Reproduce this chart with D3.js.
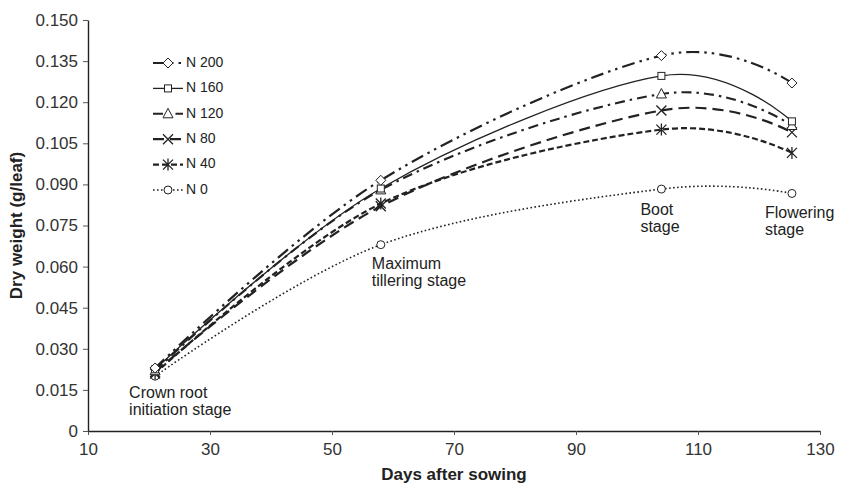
<!DOCTYPE html>
<html>
<head>
<meta charset="utf-8">
<script src="https://cdn.jsdelivr.net/npm/d3@7/dist/d3.min.js"></script>
<style>
  html, body { margin: 0; padding: 0; background: #fff; }
  text { font-family: "Liberation Sans", Arial, sans-serif; }
</style>
</head>
<body>
<svg id="chart" width="855" height="485"></svg>
<script>
// ---- data ----
const days = [21, 58, 104, 125.4];
const seriesNames = ["N 200", "N 160", "N 120", "N 80", "N 40", "N 0"];
const n200 = [0.023, 0.0915, 0.137, 0.127];
const n160 = [0.0225, 0.0885, 0.1296, 0.113];
const n120 = [0.022, 0.088, 0.123, 0.1115];
const n80  = [0.0215, 0.082, 0.117, 0.109];
const n40  = [0.021, 0.083, 0.110, 0.1015];
const n0   = [0.020, 0.068, 0.0883, 0.0867];
const xTicks = [10, 30, 50, 70, 90, 110, 130];
const yTicks = [0, 0.015, 0.030, 0.045, 0.060, 0.075, 0.090, 0.105, 0.120, 0.135, 0.150];
const stageLabels = [
  {day: 21, lines: ["Crown root", "initiation stage"]},
  {day: 58, lines: ["Maximum", "tillering stage"]},
  {day: 104, lines: ["Boot", "stage"]},
  {day: 125.4, lines: ["Flowering", "stage"]}
];

// ---- styles ----
const styles = [
  {marker: "diamond",  dash: "13,5,2.5,5,2.5,5", width: 2.2},
  {marker: "square",   dash: null,               width: 1.3},
  {marker: "triangle", dash: "10,5,2.5,5",       width: 2.1},
  {marker: "x",        dash: "11,6",             width: 2.2},
  {marker: "asterisk", dash: "6,3",              width: 2.2},
  {marker: "circle",   dash: "1.6,2.4",          width: 1.6}
];
const allSeries = [n200, n160, n120, n80, n40, n0];
const ink = "#222";

const svg = d3.select("#chart");
const W = 855, H = 485;
const margin = {left: 88, right: 35, top: 20, bottom: 54};
const x = d3.scaleLinear().domain([10, 130]).range([margin.left, W - margin.right]);
const y = d3.scaleLinear().domain([0, 0.15]).range([H - margin.bottom, margin.top]);

// axes
const xAxis = svg.append("g")
  .attr("transform", `translate(0,${H - margin.bottom})`)
  .call(d3.axisBottom(x).tickValues(xTicks).tickSize(4).tickSizeOuter(0).tickPadding(8));
const yAxis = svg.append("g")
  .attr("transform", `translate(${margin.left},0)`)
  .call(d3.axisLeft(y).tickValues(yTicks).tickSize(5).tickSizeOuter(0).tickPadding(5)
    .tickFormat(d => d === 0 ? "0" : d3.format(".3f")(d)));
[xAxis, yAxis].forEach(g => {
  g.select(".domain").attr("stroke", ink).attr("stroke-width", 1.4);
  g.selectAll(".tick line").attr("stroke", "#555").attr("stroke-width", 1);
  g.selectAll(".tick text").attr("fill", "#333").style("font-size", "17px")
    .style("font-family", "'Liberation Sans', Arial, sans-serif");
});

// axis titles
svg.append("text")
  .attr("x", x(70)).attr("y", 480)
  .attr("text-anchor", "middle")
  .style("font-size", "17px").style("font-weight", "bold").attr("fill", ink)
  .text("Days after sowing");
svg.append("text")
  .attr("transform", `translate(18,${(margin.top + H - margin.bottom) / 2}) rotate(-90)`)
  .attr("text-anchor", "middle").attr("dominant-baseline", "middle")
  .style("font-size", "17px").style("font-weight", "bold").attr("fill", ink)
  .text("Dry weight (g/leaf)");

// markers
function drawMarker(g, type, cx, cy) {
  const common = sel => sel.attr("fill", "#fff").attr("stroke", ink).attr("stroke-width", 1);
  if (type === "diamond") {
    common(g.append("path").attr("d", `M${cx},${cy-5}L${cx+5},${cy}L${cx},${cy+5}L${cx-5},${cy}Z`));
  } else if (type === "square") {
    common(g.append("rect").attr("x", cx-3.5).attr("y", cy-3.5).attr("width", 7).attr("height", 7));
  } else if (type === "triangle") {
    common(g.append("path").attr("d", `M${cx},${cy-5.5}L${cx+5},${cy+4}L${cx-5},${cy+4}Z`));
  } else if (type === "circle") {
    common(g.append("circle").attr("cx", cx).attr("cy", cy).attr("r", 4));
  } else if (type === "x" || type === "asterisk") {
    const s = 5;
    let d = `M${cx-s},${cy-s}L${cx+s},${cy+s}M${cx-s},${cy+s}L${cx+s},${cy-s}`;
    if (type === "asterisk") d += `M${cx},${cy-s-1}L${cx},${cy+s+1}`;
    g.append("path").attr("d", d).attr("stroke", ink).attr("stroke-width", 1.3).attr("fill", "none");
  }
}

// lines
const line = d3.line()
  .x((d, i) => x(days[i]))
  .y(d => y(d))
  .curve(d3.curveCardinal.tension(0));

const plot = svg.append("g");
allSeries.forEach((vals, si) => {
  const st = styles[si];
  plot.append("path")
    .datum(vals)
    .attr("d", line)
    .attr("fill", "none")
    .attr("stroke", ink)
    .attr("stroke-width", st.width)
    .attr("stroke-dasharray", st.dash);
});
for (let si = allSeries.length - 1; si >= 0; si--) {
  const g = plot.append("g");
  allSeries[si].forEach((v, i) => drawMarker(g, styles[si].marker, x(days[i]), y(v)));
}

// stage annotations
const stageOffsets = [
  {dx: -26, y0: 398},
  {dx: -9, y0: 269},
  {dx: -21, y0: 215},
  {dx: -27, y0: 218}
];
stageLabels.forEach((s, k) => {
  const t = svg.append("text")
    .attr("x", x(s.day) + stageOffsets[k].dx)
    .attr("y", stageOffsets[k].y0)
    .style("font-size", "16px").attr("fill", ink);
  s.lines.forEach((ln, j) => {
    t.append("tspan").attr("x", x(s.day) + stageOffsets[k].dx).attr("dy", j === 0 ? 0 : 17).text(ln);
  });
});

// legend
const legend = svg.append("g");
seriesNames.forEach((name, i) => {
  const ly = 63 + i * 25.4;
  const st = styles[i];
  legend.append("line")
    .attr("x1", 153).attr("x2", 183).attr("y1", ly).attr("y2", ly)
    .attr("stroke", ink).attr("stroke-width", st.width)
    .attr("stroke-dasharray", st.dash);
  drawMarker(legend, st.marker, 168, ly);
  legend.append("text")
    .attr("x", 186).attr("y", ly).attr("dominant-baseline", "middle")
    .style("font-size", "14px").attr("fill", ink)
    .text(name);
});
</script>
</body>
</html>
